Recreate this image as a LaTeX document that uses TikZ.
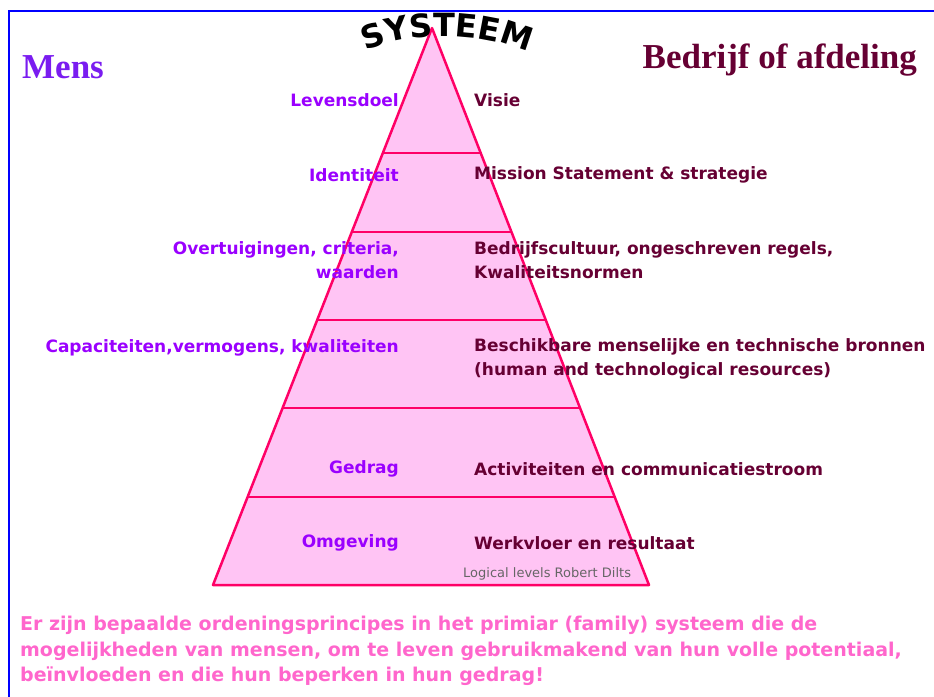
\documentclass[tikz,border=0pt]{standalone}
\usepackage{fontspec}
\setmainfont{Liberation Serif}
\newfontfamily\labelfont{DejaVu Sans}
\usepackage{tikz}
\usetikzlibrary{calc, positioning, decorations.text}

\definecolor{pyrfill}{HTML}{FFC4F4}
\definecolor{pyredge}{HTML}{FF0066}
\definecolor{menscol}{HTML}{7A1CF0}
\definecolor{mensviolet}{HTML}{9A00FF}
\definecolor{bedrijfcol}{HTML}{660033}
\definecolor{notecol}{HTML}{FF66CC}

\tikzset{
  mensitem/.style={anchor=east, align=right, text=mensviolet, inner sep=0pt,
    font=\labelfont\bfseries\fontsize{17}{24}\selectfont},
  bedrijfitem/.style={anchor=west, align=left, text=bedrijfcol, inner sep=0pt,
    font=\labelfont\bfseries\fontsize{17}{24}\selectfont},
  levelline/.style={pyredge, line width=2pt},
  heading/.style={inner sep=0pt, font=\bfseries\fontsize{35}{35}\selectfont},
}

\begin{document}
\begin{tikzpicture}[x=1pt, y=-1pt]
    \useasboundingbox (0,0) rectangle (934,696);
    \clip (0,0) rectangle (934,696);
    \draw[blue, line width=2.5pt] (9,700) |- (940,11);

    \coordinate (Top) at (432,28);
    \coordinate (BaseL) at (213,585);
    \coordinate (BaseR) at (649,585);

    \filldraw[fill=pyrfill, draw=pyredge, line width=2.5pt, line join=round] (Top) -- (BaseL) -- (BaseR) -- cycle;
    \foreach \t in {0.224, 0.366, 0.524, 0.682, 0.842}
        \draw[levelline] ($(Top)!\t!(BaseL)$) -- ($(Top)!\t!(BaseR)$);

    \path[decorate, decoration={text along path, text align=center,
        text={|\labelfont\bfseries\fontsize{32}{32}\selectfont|SYSTEEM}}]
        (348,60) .. controls (398,28) and (492,28) .. (546,62);

    \node[heading, anchor=base west, text=menscol] (mens) at (22,78) {Mens};
    \node[heading, anchor=base east, text=bedrijfcol] (bedrijf) at (917,68) {Bedrijf of afdeling};

    \node[mensitem] (levensdoel) at (399,100) {Levensdoel};
    \node[mensitem] (identiteit) at (399,175) {Identiteit};
    \node[mensitem] (overtuigingen) at (399,260) {Overtuigingen, criteria,\\waarden};
    \node[mensitem] (capaciteiten) at (399,348) {Capaciteiten,vermogens, kwaliteiten};
    \node[mensitem] (gedrag) at (399,469) {Gedrag};
    \node[mensitem] (omgeving) at (399,543) {Omgeving};

    \node[bedrijfitem] (visie) at (474,100) {Visie};
    \node[bedrijfitem] (missie) at (474,175) {Mission Statement \& strategie};
    \node[bedrijfitem] (cultuur) at (474,260) {Bedrijfscultuur, ongeschreven regels,\\Kwaliteitsnormen};
    \node[bedrijfitem] (bronnen) at (474,359) {Beschikbare menselijke en technische bronnen\\(human and technological resources)};
    \node[bedrijfitem] (activiteiten) at (474,469) {Activiteiten en communicatiestroom};
    \node[bedrijfitem] (werkvloer) at (474,543) {Werkvloer en resultaat};
    \node[anchor=west, text=gray!80!black, inner sep=0pt, font=\labelfont\fontsize{13}{13}\selectfont] (dilts) at (463,574) {Logical levels Robert Dilts};

    \node[anchor=west, align=left, text=notecol, inner sep=0pt,
        font=\labelfont\bfseries\fontsize{19}{25.5}\selectfont] (principe) at (20,651)
        {Er zijn bepaalde ordeningsprincipes in het primiar (family) systeem die de\\
         mogelijkheden van mensen, om te leven gebruikmakend van hun volle potentiaal,\\
         beïnvloeden en die hun beperken in hun gedrag!};
\end{tikzpicture}
\end{document}
